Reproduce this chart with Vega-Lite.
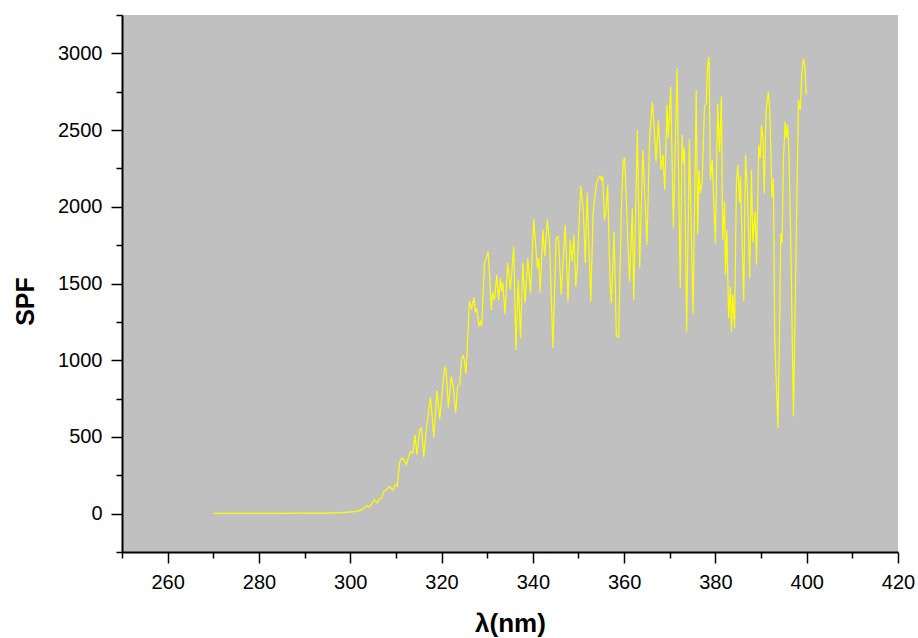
{
  "$schema": "https://vega.github.io/schema/vega-lite/v6.json",
  "autosize": {"type": "none"},
  "padding": {"left": 122, "top": 15, "right": 20, "bottom": 86},
  "width": 776,
  "height": 537,
  "background": "white",
  "config": {
    "view": {"fill": "#C0C0C0", "stroke": null},
    "font": "Liberation Sans"
  },
  "data": {
    "values": [
      {"lambda": 270, "spf": 2}, {"lambda": 275, "spf": 2}, {"lambda": 280, "spf": 2}, {"lambda": 285, "spf": 2},
      {"lambda": 290, "spf": 3}, {"lambda": 295, "spf": 4}, {"lambda": 298, "spf": 7}, {"lambda": 299.5, "spf": 10},
      {"lambda": 301.0, "spf": 13}, {"lambda": 302.1, "spf": 20}, {"lambda": 303.1, "spf": 40}, {"lambda": 303.7, "spf": 52},
      {"lambda": 304.2, "spf": 41}, {"lambda": 305.3, "spf": 91}, {"lambda": 305.9, "spf": 70}, {"lambda": 306.4, "spf": 96},
      {"lambda": 306.8, "spf": 100}, {"lambda": 307.4, "spf": 145}, {"lambda": 308.1, "spf": 161}, {"lambda": 308.6, "spf": 178},
      {"lambda": 309.0, "spf": 163}, {"lambda": 309.3, "spf": 152}, {"lambda": 309.9, "spf": 189}, {"lambda": 310.3, "spf": 178},
      {"lambda": 310.8, "spf": 334}, {"lambda": 311.3, "spf": 360}, {"lambda": 311.8, "spf": 352}, {"lambda": 312.3, "spf": 317},
      {"lambda": 312.8, "spf": 373}, {"lambda": 313.2, "spf": 406}, {"lambda": 313.7, "spf": 395}, {"lambda": 314.2, "spf": 512},
      {"lambda": 314.6, "spf": 384}, {"lambda": 315.2, "spf": 547}, {"lambda": 315.6, "spf": 558}, {"lambda": 316.1, "spf": 369},
      {"lambda": 316.7, "spf": 558}, {"lambda": 317.6, "spf": 760}, {"lambda": 318.3, "spf": 499}, {"lambda": 319.0, "spf": 803},
      {"lambda": 319.6, "spf": 615}, {"lambda": 320.2, "spf": 808}, {"lambda": 320.7, "spf": 955}, {"lambda": 321.0, "spf": 938},
      {"lambda": 321.5, "spf": 688}, {"lambda": 322.1, "spf": 894}, {"lambda": 322.5, "spf": 840}, {"lambda": 323.1, "spf": 656},
      {"lambda": 323.5, "spf": 829}, {"lambda": 324.0, "spf": 840}, {"lambda": 324.4, "spf": 1014}, {"lambda": 324.7, "spf": 1029},
      {"lambda": 325.0, "spf": 1003}, {"lambda": 325.3, "spf": 912}, {"lambda": 325.6, "spf": 1046}, {"lambda": 326.1, "spf": 1383},
      {"lambda": 326.6, "spf": 1339}, {"lambda": 327.1, "spf": 1409}, {"lambda": 327.4, "spf": 1311}, {"lambda": 327.7, "spf": 1339},
      {"lambda": 328.2, "spf": 1220}, {"lambda": 328.5, "spf": 1252}, {"lambda": 328.8, "spf": 1220}, {"lambda": 329.4, "spf": 1633},
      {"lambda": 329.9, "spf": 1676}, {"lambda": 330.2, "spf": 1708}, {"lambda": 330.5, "spf": 1567}, {"lambda": 330.9, "spf": 1328},
      {"lambda": 331.2, "spf": 1441}, {"lambda": 331.6, "spf": 1393}, {"lambda": 332.1, "spf": 1556}, {"lambda": 332.5, "spf": 1393},
      {"lambda": 332.9, "spf": 1535}, {"lambda": 333.2, "spf": 1448}, {"lambda": 333.4, "spf": 1506}, {"lambda": 333.9, "spf": 1302},
      {"lambda": 334.5, "spf": 1633}, {"lambda": 335.1, "spf": 1459}, {"lambda": 335.8, "spf": 1741}, {"lambda": 336.3, "spf": 1068},
      {"lambda": 336.8, "spf": 1524}, {"lambda": 337.3, "spf": 1144}, {"lambda": 337.8, "spf": 1633}, {"lambda": 338.3, "spf": 1372},
      {"lambda": 338.9, "spf": 1665}, {"lambda": 339.5, "spf": 1437}, {"lambda": 340.2, "spf": 1919}, {"lambda": 341.0, "spf": 1600},
      {"lambda": 341.3, "spf": 1665}, {"lambda": 341.6, "spf": 1441}, {"lambda": 342.2, "spf": 1849}, {"lambda": 342.6, "spf": 1676},
      {"lambda": 343.2, "spf": 1919}, {"lambda": 343.7, "spf": 1741}, {"lambda": 344.4, "spf": 1079}, {"lambda": 345.1, "spf": 1795},
      {"lambda": 345.6, "spf": 1806}, {"lambda": 346.2, "spf": 1426}, {"lambda": 347.1, "spf": 1882}, {"lambda": 347.7, "spf": 1383},
      {"lambda": 348.2, "spf": 1784}, {"lambda": 348.6, "spf": 1643}, {"lambda": 349.0, "spf": 1817}, {"lambda": 349.4, "spf": 1480},
      {"lambda": 349.7, "spf": 1589}, {"lambda": 350.5, "spf": 2136}, {"lambda": 351.1, "spf": 1958}, {"lambda": 351.5, "spf": 1633},
      {"lambda": 351.9, "spf": 2093}, {"lambda": 352.7, "spf": 1383}, {"lambda": 353.2, "spf": 1958}, {"lambda": 353.5, "spf": 2045},
      {"lambda": 354.0, "spf": 2164}, {"lambda": 354.4, "spf": 2186}, {"lambda": 354.7, "spf": 2201}, {"lambda": 355.0, "spf": 2175},
      {"lambda": 355.3, "spf": 2201}, {"lambda": 355.7, "spf": 1915}, {"lambda": 356.0, "spf": 1969}, {"lambda": 356.4, "spf": 2142},
      {"lambda": 356.9, "spf": 1524}, {"lambda": 357.2, "spf": 1372}, {"lambda": 357.8, "spf": 1838}, {"lambda": 358.3, "spf": 1159},
      {"lambda": 358.8, "spf": 1150}, {"lambda": 359.4, "spf": 1991}, {"lambda": 359.8, "spf": 2294}, {"lambda": 360.1, "spf": 2322},
      {"lambda": 360.5, "spf": 2045}, {"lambda": 360.8, "spf": 1784}, {"lambda": 361.2, "spf": 1513}, {"lambda": 361.8, "spf": 1991},
      {"lambda": 362.1, "spf": 1393}, {"lambda": 362.9, "spf": 2501}, {"lambda": 363.4, "spf": 1600}, {"lambda": 364.1, "spf": 2370},
      {"lambda": 365.0, "spf": 1752}, {"lambda": 365.6, "spf": 2457}, {"lambda": 366.2, "spf": 2685}, {"lambda": 366.7, "spf": 2457},
      {"lambda": 367.0, "spf": 2294}, {"lambda": 367.5, "spf": 2566}, {"lambda": 368.1, "spf": 2240}, {"lambda": 368.5, "spf": 2338},
      {"lambda": 368.9, "spf": 2110}, {"lambda": 369.4, "spf": 2663}, {"lambda": 369.7, "spf": 2447}, {"lambda": 370.2, "spf": 2783},
      {"lambda": 370.8, "spf": 1860}, {"lambda": 371.6, "spf": 2902}, {"lambda": 372.3, "spf": 1470}, {"lambda": 372.7, "spf": 2468},
      {"lambda": 373.0, "spf": 2284}, {"lambda": 373.2, "spf": 2381}, {"lambda": 373.7, "spf": 1187}, {"lambda": 374.3, "spf": 2440},
      {"lambda": 375.1, "spf": 1296}, {"lambda": 375.8, "spf": 2761}, {"lambda": 376.1, "spf": 1817}, {"lambda": 376.4, "spf": 2240},
      {"lambda": 376.7, "spf": 2088}, {"lambda": 377.1, "spf": 2164}, {"lambda": 377.6, "spf": 2652}, {"lambda": 378.0, "spf": 2675},
      {"lambda": 378.3, "spf": 2924}, {"lambda": 378.6, "spf": 2978}, {"lambda": 378.9, "spf": 2175}, {"lambda": 379.3, "spf": 2305},
      {"lambda": 380.0, "spf": 1763}, {"lambda": 380.5, "spf": 2675}, {"lambda": 380.9, "spf": 2359}, {"lambda": 381.3, "spf": 2718},
      {"lambda": 381.6, "spf": 1784}, {"lambda": 382.0, "spf": 2034}, {"lambda": 382.2, "spf": 1556}, {"lambda": 382.5, "spf": 1849},
      {"lambda": 382.9, "spf": 1274}, {"lambda": 383.3, "spf": 1480}, {"lambda": 383.5, "spf": 1187}, {"lambda": 383.8, "spf": 1426},
      {"lambda": 384.2, "spf": 1209}, {"lambda": 384.6, "spf": 2153}, {"lambda": 384.9, "spf": 2273}, {"lambda": 385.3, "spf": 2023},
      {"lambda": 385.5, "spf": 2197}, {"lambda": 386.2, "spf": 1383}, {"lambda": 386.6, "spf": 2338}, {"lambda": 387.0, "spf": 2110},
      {"lambda": 387.5, "spf": 1535}, {"lambda": 387.9, "spf": 2240}, {"lambda": 388.2, "spf": 1773}, {"lambda": 388.7, "spf": 1969},
      {"lambda": 389.0, "spf": 1622}, {"lambda": 389.5, "spf": 2403}, {"lambda": 389.8, "spf": 2316}, {"lambda": 390.1, "spf": 2533},
      {"lambda": 390.4, "spf": 2457}, {"lambda": 390.7, "spf": 2088}, {"lambda": 391.1, "spf": 2631}, {"lambda": 391.6, "spf": 2750},
      {"lambda": 391.9, "spf": 2631}, {"lambda": 392.4, "spf": 2056}, {"lambda": 392.7, "spf": 2186}, {"lambda": 393.0, "spf": 1133},
      {"lambda": 393.7, "spf": 558}, {"lambda": 394.1, "spf": 1285}, {"lambda": 394.3, "spf": 1828}, {"lambda": 394.6, "spf": 1763},
      {"lambda": 394.9, "spf": 2316}, {"lambda": 395.3, "spf": 2555}, {"lambda": 395.5, "spf": 2447}, {"lambda": 395.8, "spf": 2533},
      {"lambda": 396.1, "spf": 2370}, {"lambda": 396.5, "spf": 1784}, {"lambda": 397.1, "spf": 634}, {"lambda": 397.7, "spf": 1784},
      {"lambda": 398.2, "spf": 2696}, {"lambda": 398.6, "spf": 2631}, {"lambda": 398.9, "spf": 2859}, {"lambda": 399.3, "spf": 2968},
      {"lambda": 399.6, "spf": 2913}, {"lambda": 399.9, "spf": 2729}
    ]
  },
  "mark": {"type": "line", "color": "#FFFF00", "strokeWidth": 1.2, "clip": true},
  "encoding": {
    "x": {
      "field": "lambda",
      "type": "quantitative",
      "scale": {"domain": [250, 420], "nice": false, "zero": false},
      "axis": {
        "title": "λ(nm)",
        "values": [250, 260, 270, 280, 290, 300, 310, 320, 330, 340, 350, 360, 370, 380, 390, 400, 410, 420],
        "labelExpr": "datum.value % 20 === 0 ? datum.label : ''",
        "tickSize": {"condition": {"test": "datum.value % 20 === 0", "value": 11}, "value": 6},
        "tickWidth": 1.5,
        "tickColor": "black",
        "domainColor": "black",
        "domainWidth": 2,
        "grid": false,
        "labelFontSize": 20,
        "labelColor": "black",
        "labelPadding": 9,
        "labelFlush": false,
        "labelOverlap": false,
        "labelBound": false,
        "titleFontSize": 26,
        "titleFontWeight": "bold",
        "titleColor": "black",
        "titleY": 79,
        "titleBaseline": "alphabetic"
      }
    },
    "y": {
      "field": "spf",
      "type": "quantitative",
      "scale": {"domain": [-250, 3250], "nice": false, "zero": false},
      "axis": {
        "title": "SPF",
        "values": [-250, 0, 250, 500, 750, 1000, 1250, 1500, 1750, 2000, 2250, 2500, 2750, 3000, 3250],
        "labelExpr": "datum.value % 500 === 0 ? datum.label : ''",
        "tickSize": {"condition": {"test": "datum.value % 500 === 0", "value": 11}, "value": 6},
        "tickWidth": 1.5,
        "tickColor": "black",
        "domainColor": "black",
        "domainWidth": 2,
        "grid": false,
        "format": "d",
        "labelFontSize": 20,
        "labelColor": "black",
        "labelPadding": 9,
        "labelFlush": false,
        "labelOverlap": false,
        "labelBound": false,
        "titleFontSize": 25,
        "titleFontWeight": "bold",
        "titleColor": "black",
        "titleX": -89,
        "titleY": 286,
        "titleAngle": -90,
        "titleAlign": "center",
        "titleBaseline": "alphabetic"
      }
    }
  }
}
